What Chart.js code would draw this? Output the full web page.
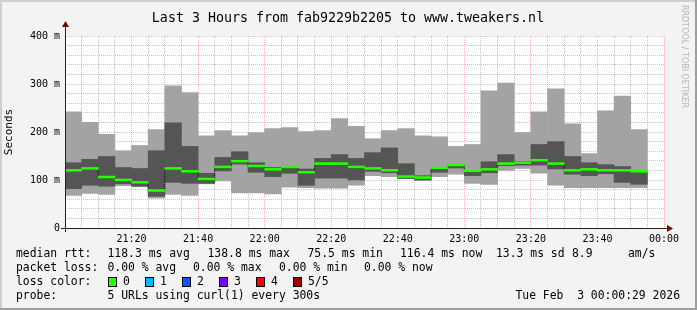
<!DOCTYPE html>
<html>
<head>
<meta charset="utf-8">
<script src="https://cdn.jsdelivr.net/npm/chart.js@4.4.1/dist/chart.umd.min.js"></script>
<style>
  html, body { margin: 0; padding: 0; background: #f3f3f3; }
  #wrap { width: 697px; height: 310px; }
</style>
</head>
<body>
<div id="wrap"><canvas id="c" width="697" height="310"></canvas></div>
<script>
// 5 minute slots, 21:00 .. 23:50 (each bar covers one slot)
const slots = ['21:00', '21:05', '21:10', '21:15', '21:20', '21:25', '21:30', '21:35', '21:40', '21:45',
  '21:50', '21:55', '22:00', '22:05', '22:10', '22:15', '22:20', '22:25', '22:30', '22:35',
  '22:40', '22:45', '22:50', '22:55', '23:00', '23:05', '23:10', '23:15', '23:20', '23:25',
  '23:30', '23:35', '23:40', '23:45', '23:50'];

// sorted ping values per slot, ms (5 pings: min, 2nd, median, 4th, max)
const pingMin = [68, 72, 70, 88, 86, 62, 70, 68, 92, 98, 73, 73, 71, 85, 84, 83, 83, 89, 109, 107,
  103, 99, 107, 112, 93, 91, 120, 124, 114, 89, 84, 84, 84, 84, 84];
const ping2 = [82, 89, 87, 92, 87, 66, 95, 93, 93, 119, 133, 116, 107, 114, 89, 104, 104, 100, 118, 115,
  103, 100, 116, 125, 109, 115, 130, 131, 131, 123, 112, 109, 113, 95, 91];
const median = [118, 122, 104, 98, 93, 76, 122, 116, 100, 125, 137, 127, 120, 125, 114, 132, 132, 125, 122, 118,
  105, 103, 123, 129, 117, 120, 132, 134, 139, 132, 118, 120, 118, 118, 116];
const ping4 = [136, 143, 149, 126, 124, 161, 219, 170, 114, 147, 159, 136, 126, 127, 123, 145, 153, 145, 157, 167,
  134, 109, 126, 132, 120, 138, 153, 139, 174, 180, 149, 136, 132, 128, 120];
const pingMax = [242, 220, 195, 161, 172, 205, 296, 282, 192, 203, 192, 199, 207, 209, 201, 203, 228, 212, 186, 203,
  207, 192, 190, 170, 174, 286, 302, 199, 242, 290, 217, 155, 244, 275, 205];

const timeLabels = ['21:20', '21:40', '22:00', '22:20', '22:40', '23:00', '23:20', '23:40', '00:00'];

const lossLabels = ['0', '1', '2', '3', '4', '5/5'];
const lossColors = ['#26ff00', '#00b8ff', '#0059ff', '#7e00ff', '#ff0000', '#a00000'];

const MONO = "'DejaVu Sans Mono', monospace";
const GRID = 'rgba(140,140,140,0.5)';
const MGRID = 'rgba(255,0,0,0.3)';

// slot index -> minutes after 21:00 (bar centre)
const toBars = (lo, hi) => slots.map((s, i) => ({ x: i * 5 + 2.5, y: [lo[i], hi[i]] }));

// frame, title, arrows and the rrdtool style legend below the graph
const rrdFrame = {
  id: 'rrdFrame',
  beforeDraw(chart) {
    const { ctx, chartArea: a } = chart;
    ctx.save();
    ctx.fillStyle = '#f3f3f3';
    ctx.fillRect(0, 0, chart.width, chart.height);
    ctx.fillStyle = '#ffffff';
    ctx.fillRect(a.left, a.top, a.right - a.left, a.bottom - a.top);
    // shade
    ctx.fillStyle = '#cfcfcf';
    ctx.fillRect(0, 0, chart.width, 2);
    ctx.fillRect(0, 0, 2, chart.height);
    ctx.fillStyle = '#9e9e9e';
    ctx.fillRect(chart.width - 2, 0, 2, chart.height);
    ctx.fillRect(0, chart.height - 2, chart.width, 2);
    ctx.restore();
  },
  afterDraw(chart) {
    const { ctx, chartArea: a } = chart;
    ctx.save();
    // axes
    ctx.strokeStyle = '#202020';
    ctx.lineWidth = 1;
    ctx.beginPath();
    ctx.moveTo(a.left - 4, a.bottom + 0.5);
    ctx.lineTo(a.right + 5, a.bottom + 0.5);
    ctx.moveTo(a.left + 0.5, a.bottom + 4);
    ctx.lineTo(a.left + 0.5, a.top - 9);
    ctx.stroke();
    ctx.fillStyle = '#7f0000';
    ctx.beginPath();
    ctx.moveTo(a.right + 9, a.bottom + 0.5);
    ctx.lineTo(a.right + 3, a.bottom - 3);
    ctx.lineTo(a.right + 3, a.bottom + 4);
    ctx.closePath();
    ctx.fill();
    ctx.beginPath();
    ctx.moveTo(a.left + 0.5, a.top - 15);
    ctx.lineTo(a.left - 3, a.top - 9);
    ctx.lineTo(a.left + 4, a.top - 9);
    ctx.closePath();
    ctx.fill();

    // title
    ctx.fillStyle = '#000';
    ctx.textBaseline = 'middle';
    ctx.textAlign = 'center';
    ctx.font = '13.3px ' + MONO;
    ctx.fillText('Last 3 Hours from fab9229b2205 to www.tweakers.nl', 348, 19);

    // legend
    ctx.textAlign = 'left';
    ctx.font = '11.4px ' + MONO;
    const rows = [
      [254, [[16, 'median rtt:'], [107.5, '118.3 ms avg'], [207.5, '138.8 ms max'], [307.5, '75.5 ms min'],
        [400, '116.4 ms now'], [496, '13.3 ms sd'], [572, '8.9'], [628, 'am/s']]],
      [268, [[16, 'packet loss:'], [107.5, '0.00 % avg'], [193, '0.00 % max'], [279, '0.00 % min'], [364, '0.00 % now']]],
      [282, [[16, 'loss color:']]],
      [296, [[16, 'probe:'], [107.5, '5 URLs using curl(1) every 300s']]]
    ];
    rows.forEach(([y, items]) => items.forEach(([x, t]) => ctx.fillText(t, x, y)));
    lossLabels.forEach((lbl, i) => {
      const bx = 108 + i * 37;
      ctx.fillStyle = lossColors[i];
      ctx.fillRect(bx, 277.5, 9, 9);
      ctx.strokeStyle = '#000';
      ctx.strokeRect(bx + 0.5, 277.5, 8, 9);
      ctx.fillStyle = '#000';
      ctx.fillText(lbl, bx + 15, 282);
    });
    ctx.textAlign = 'right';
    ctx.fillText('Tue Feb  3 00:00:29 2026', 680, 296);

    // watermark
    ctx.translate(684, 5);
    ctx.rotate(Math.PI / 2);
    ctx.textAlign = 'left';
    ctx.fillStyle = '#b4b4b4';
    ctx.font = "8px 'DejaVu Sans', sans-serif";
    ctx.fillText('RRDTOOL / TOBI OETIKER', 0, 0);
    ctx.restore();
  }
};

new Chart(document.getElementById('c'), {
  type: 'bar',
  data: {
    datasets: [
      { label: 'median', data: toBars(median, median), backgroundColor: '#26ff00', minBarLength: 2, order: 0, grouped: false },
      {
        type: 'line', label: 'median step',
        data: slots.map((s, i) => ({ x: i * 5 + 2.5, y: median[i] })),
        stepped: 'middle', borderColor: '#000', borderWidth: 1, borderDash: [1, 1], pointRadius: 0, order: 1
      },
      { label: 'smoke inner', data: toBars(ping2, ping4), backgroundColor: '#555555', order: 2, grouped: false },
      { label: 'smoke outer', data: toBars(pingMin, pingMax), backgroundColor: '#a3a3a3', order: 3, grouped: false }
    ]
  },
  options: {
    responsive: false,
    animation: false,
    layout: { padding: { top: 36, right: 33, left: 0, bottom: 0 } },
    datasets: { bar: { barPercentage: 1, categoryPercentage: 1, borderWidth: 0 } },
    plugins: { legend: { display: false }, tooltip: { enabled: false } },
    scales: {
      x: {
        type: 'linear', min: 0, max: 180, offset: false,
        grid: {
          offset: false, drawTicks: false, lineWidth: 1,
          color: c => (c.tick && c.tick.value % 20 === 0 ? MGRID : GRID)
        },
        border: { display: false, dash: [1, 1] },
        ticks: {
          stepSize: 5, autoSkip: false, maxRotation: 0, padding: 5, color: '#000',
          font: { family: MONO, size: 10 },
          callback: v => (v % 20 === 0 && v > 0 ? timeLabels[v / 20 - 1] : '')
        },
        afterFit(s) { s.height = 82; }
      },
      y: {
        min: 0, max: 400,
        grid: {
          drawTicks: false, lineWidth: 1,
          color: c => (c.tick && c.tick.value % 100 === 0 ? MGRID : GRID)
        },
        border: { display: false, dash: [1, 1] },
        ticks: {
          stepSize: 20, autoSkip: false, padding: 5, color: '#000',
          font: { family: MONO, size: 10 },
          callback: v => (v % 100 === 0 ? (v === 0 ? '0' : v + ' m') : '')
        },
        title: { display: true, text: 'Seconds', color: '#000', font: { family: MONO, size: 11 }, padding: { top: 3, bottom: 0 } },
        afterFit(s) { s.width = 65; }
      }
    }
  },
  plugins: [rrdFrame]
});
</script>
</body>
</html>
